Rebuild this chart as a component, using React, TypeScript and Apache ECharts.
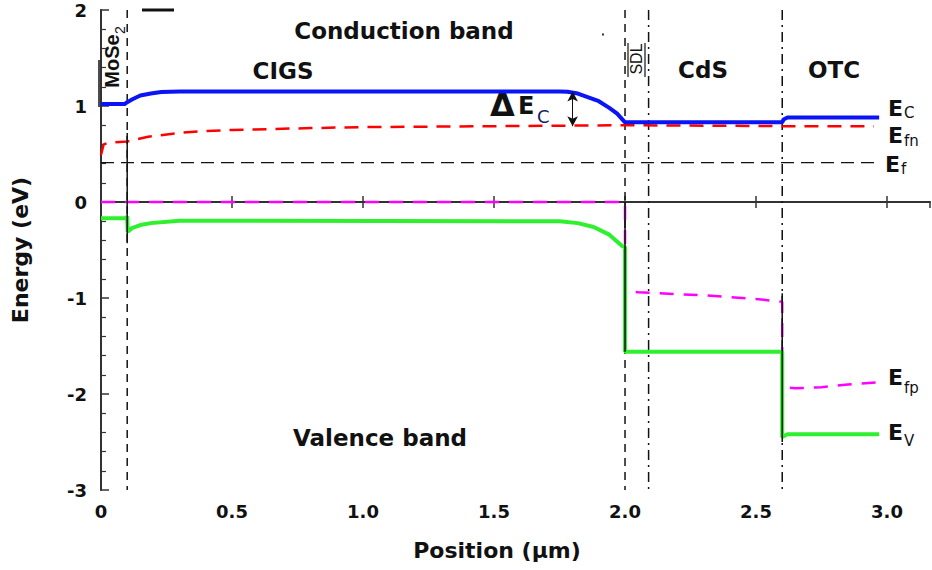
import React, { useEffect, useRef } from "react";
import * as echarts from "echarts";

// ---- data (position in µm, energy in eV) ----
const ecX = [0, 0.09, 0.1, 0.12, 0.15, 0.19, 0.23, 0.3, 1.75, 1.78, 1.82, 1.86, 1.9, 1.94, 1.97, 2.0, 2.6, 2.605, 2.62, 2.97];
const ecY = [1.02, 1.02, 1.04, 1.07, 1.11, 1.13, 1.145, 1.15, 1.15, 1.148, 1.13, 1.09, 1.05, 0.98, 0.92, 0.83, 0.83, 0.86, 0.88, 0.88];

const efnX = [0, 0.01, 0.03, 0.1, 0.18, 0.3, 0.4, 0.5, 0.8, 1.0, 1.5, 2.0, 2.6, 2.95];
const efnY = [0.49, 0.6, 0.62, 0.63, 0.68, 0.72, 0.74, 0.75, 0.77, 0.78, 0.79, 0.8, 0.79, 0.79];

const efX = [0, 2.97];
const efY = [0.41, 0.41];

const efpX = [0, 2.0, 2.0, 2.05, 2.2, 2.3, 2.4, 2.5, 2.6, 2.6, 2.65, 2.75, 2.85, 2.96];
const efpY = [0, 0, -0.93, -0.94, -0.96, -0.97, -0.99, -1.01, -1.04, -1.93, -1.94, -1.93, -1.9, -1.88];

const evX = [0, 0.095, 0.1, 0.102, 0.12, 0.15, 0.19, 0.3, 1.75, 1.82, 1.88, 1.94, 1.99, 2.0, 2.0, 2.6, 2.6, 2.605, 2.62, 2.97];
const evY = [-0.17, -0.17, -0.15, -0.31, -0.27, -0.24, -0.22, -0.195, -0.2, -0.22, -0.26, -0.34, -0.46, -0.47, -1.56, -1.56, -2.45, -2.44, -2.42, -2.42];

// layer boundaries (µm)
const dashedBounds = [0.1, 2.0];
const dashDotBounds = [2.09, 2.6];
// solid boundary segments [x, yTop, yBottom]
const solidSegX = [0.1, 2.0, 2.6];
const solidSegTop = [0.72, 0.0, -0.95];
const solidSegBot = [-0.43, -1.56, -2.5];

const xTicks = [0, 0.5, 1.0, 1.5, 2.0, 2.5, 3.0];

const zip = (xs: number[], ys: number[]) => xs.map((x, i) => [x, ys[i]]);

const FONT = "DejaVu Sans";

export default function App() {
  const ref = useRef<HTMLDivElement>(null);
  useEffect(() => {
    document.body.style.margin = "0";
    const chart = echarts.init(ref.current!, null, { renderer: "svg" });

    const boundSeries: any[] = [];
    dashedBounds.forEach((b) =>
      boundSeries.push({
        type: "line",
        data: [[b, 2], [b, -3]],
        symbol: "none",
        silent: true,
        lineStyle: { color: "#111", width: 1.5, type: [8, 6] },
      })
    );
    dashDotBounds.forEach((b) =>
      boundSeries.push({
        type: "line",
        data: [[b, 2], [b, -3]],
        symbol: "none",
        silent: true,
        lineStyle: { color: "#111", width: 1.5, type: [10, 5, 2, 5] },
      })
    );
    const solidSeries = solidSegX.map((x, i) => ({
      type: "line",
      data: [[x, solidSegTop[i]], [x, solidSegBot[i]]],
      symbol: "none",
      silent: true,
      lineStyle: { color: "#111", width: 1.5 },
    }));

    const tickFont = { fontFamily: FONT, fontWeight: "bold", fontSize: 18, color: "#111" };
    const bigText = (text: string, x: number, y: number) => ({
      type: "text",
      x,
      y,
      style: { text, font: `bold 23px "${FONT}"`, fill: "#111", align: "center", verticalAlign: "middle" },
    });
    const sym = (main: string, sub: string, x: number, y: number, subX: number, subY: number) => [
      { type: "text", x, y, style: { text: main, font: `bold 22px "${FONT}"`, fill: "#111", align: "left", verticalAlign: "middle" } },
      { type: "text", x: subX, y: subY, style: { text: sub, font: `15px "${FONT}"`, fill: "#111", align: "left", verticalAlign: "middle" } },
    ];

    chart.setOption({
      animation: false,
      grid: { left: 101, right: 2, top: 10, bottom: 80, containLabel: false },
      xAxis: [
        {
          type: "value",
          min: 0,
          max: 3.164,
          interval: 0.5,
          position: "bottom",
          axisLine: { lineStyle: { color: "#333", width: 2 } },
          axisTick: { inside: true, length: 6, lineStyle: { color: "#333", width: 1.5 } },
          axisLabel: {
            ...tickFont,
            margin: 12,
            showMaxLabel: false,
            formatter: (v: number) => (xTicks.includes(v) ? (v === 0 ? "0" : v.toFixed(1)) : ""),
          },
          splitLine: { show: false },
        },
        {
          type: "value",
          min: 0,
          max: 3.164,
          interval: 0.5,
          position: "top",
          axisLine: { lineStyle: { color: "#333", width: 1.5 } },
          axisTick: { inside: true, length: 6, lineStyle: { color: "#333", width: 1.5 } },
          axisLabel: { show: false },
          splitLine: { show: false },
        },
      ],
      yAxis: [
        {
          type: "value",
          min: -3,
          max: 2,
          interval: 1,
          position: "left",
          axisLine: { show: true, lineStyle: { color: "#333", width: 2 } },
          axisTick: { show: true, inside: true, length: 8, lineStyle: { color: "#333", width: 1.5 } },
          minorTick: { show: true, splitNumber: 5, length: 5, lineStyle: { color: "#333", width: 1.2 } },
          axisLabel: { ...tickFont, margin: 14 },
          splitLine: { show: false },
        },
        {
          type: "value",
          min: -3,
          max: 2,
          interval: 1,
          position: "right",
          axisLine: { show: true, lineStyle: { color: "#333", width: 1.5 } },
          axisTick: { show: false },
          axisLabel: { show: false },
          splitLine: { show: false },
        },
      ],
      series: [
        ...boundSeries,
        {
          name: "Ef",
          type: "line",
          data: zip(efX, efY),
          symbol: "none",
          lineStyle: { color: "#111", width: 1.2, type: [13, 7] },
        },
        {
          name: "Efp",
          type: "line",
          data: zip(efpX, efpY),
          symbol: "none",
          lineStyle: { color: "#ff00ff", width: 2.5, type: [14, 10] },
        },
        {
          name: "Efn",
          type: "line",
          data: zip(efnX, efnY),
          symbol: "none",
          lineStyle: { color: "#ff0000", width: 2.5, type: [14, 9] },
        },
        {
          name: "Ev",
          type: "line",
          data: zip(evX, evY),
          symbol: "none",
          lineStyle: { color: "#2ef02e", width: 4 },
        },
        {
          name: "Ec",
          type: "line",
          data: zip(ecX, ecY),
          symbol: "none",
          lineStyle: { color: "#0a14f5", width: 4 },
          markLine: {
            silent: true,
            symbol: ["arrow", "arrow"],
            symbolSize: [8, 10],
            label: { show: false },
            lineStyle: { color: "#111", width: 1, type: "solid" },
            data: [[{ coord: [1.8, 1.15] }, { coord: [1.8, 0.79] }]],
          },
        },
        ...solidSeries,
      ],
      graphic: [
        bigText("Conduction band", 404, 31),
        bigText("CIGS", 283, 71),
        bigText("CdS", 703, 70),
        bigText("OTC", 834, 70),
        bigText("Valence band", 380, 438),
        {
          type: "text",
          x: 20,
          y: 250,
          rotation: Math.PI / 2,
          style: { text: "Energy (eV)", font: `bold 22px "${FONT}"`, fill: "#111", align: "center", verticalAlign: "middle" },
        },
        {
          type: "text",
          x: 497,
          y: 550,
          style: { text: "Position (µm)", font: `bold 22px "${FONT}"`, fill: "#111", align: "center", verticalAlign: "middle" },
        },
        // MoSe2 rotated label
        {
          type: "group",
          x: 112,
          y: 61,
          rotation: Math.PI / 2,
          children: [
            { type: "text", x: 0, y: 0, style: { text: "MoSe", font: `bold 20px "Liberation Sans"`, fill: "#111", align: "center", verticalAlign: "middle" } },
            { type: "text", x: 27, y: 8, style: { text: "2", font: `14px "Liberation Sans"`, fill: "#111", align: "left", verticalAlign: "middle" } },
          ],
        },
        { type: "line", shape: { x1: 99, y1: 60, x2: 99, y2: 107 }, style: { stroke: "#111", lineWidth: 1.5 } },
        // SDL rotated label
        {
          type: "group",
          x: 636,
          y: 59,
          rotation: Math.PI / 2,
          children: [
            { type: "text", x: 0, y: 0, style: { text: "SDL", font: `16px "Liberation Sans"`, fill: "#111", align: "center", verticalAlign: "middle" } },
          ],
        },
        { type: "line", shape: { x1: 628, y1: 43, x2: 628, y2: 77 }, style: { stroke: "#111", lineWidth: 1.2 } },
        { type: "line", shape: { x1: 645, y1: 43, x2: 645, y2: 77 }, style: { stroke: "#111", lineWidth: 1.2 } },
        // ΔEc annotation
        { type: "text", x: 490, y: 105, style: { text: "Δ", font: `bold 32px "${FONT}"`, fill: "#111", align: "left", verticalAlign: "middle" } },
        { type: "text", x: 518, y: 106, style: { text: "E", font: `bold 24px "${FONT}"`, fill: "#111", align: "left", verticalAlign: "middle" } },
        { type: "text", x: 537, y: 116, style: { text: "C", font: `18px "${FONT}"`, fill: "#14215e", align: "left", verticalAlign: "middle" } },
        // right-side level labels
        ...sym("E", "C", 888, 108, 904, 113),
        ...sym("E", "fn", 888, 135, 904, 141),
        ...sym("E", "f", 885, 164, 901, 169),
        ...sym("E", "fp", 888, 377, 904, 388),
        ...sym("E", "V", 888, 432, 904, 441),
        // small marks
        { type: "rect", shape: { x: 142, y: 8.5, width: 32, height: 3 }, style: { fill: "#111" } },
        { type: "rect", shape: { x: 602, y: 33.5, width: 2, height: 2 }, style: { fill: "#333" } },
      ],
    });
    return () => chart.dispose();
  }, []);
  return <div ref={ref} style={{ width: 932, height: 570 }} />;
}
